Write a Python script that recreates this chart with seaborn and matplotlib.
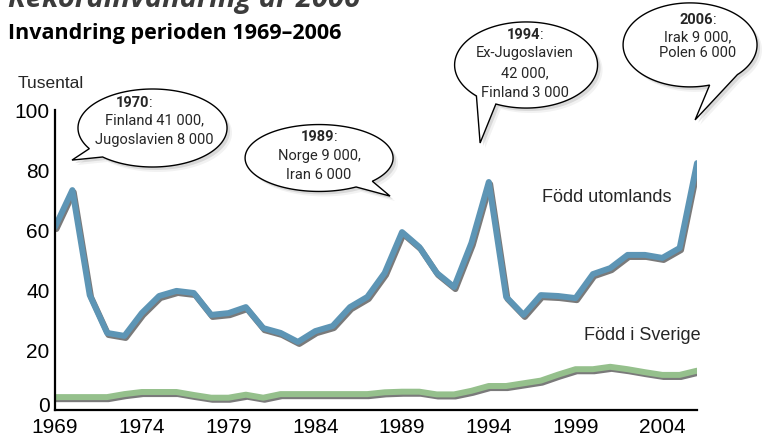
import numpy as np
import pandas as pd
import seaborn as sns
import matplotlib.pyplot as plt
import matplotlib.patheffects as pe
import matplotlib.transforms as mtransforms
from matplotlib.patches import Polygon
from matplotlib.transforms import offset_copy

# Invandring 1969-2006, tusental
years = list(range(1969, 2007))
fodd_utomlands = [61, 73.3, 38.3, 25.7, 24.7, 32.3, 38, 39.7, 39, 31.7,
                  32.3, 34.3, 27.3, 25.7, 22.7, 26.3, 28, 34.3, 37.7, 45.7,
                  59.3, 54.3, 45.7, 41, 55.7, 76, 37.7, 31.7, 38.3, 38,
                  37.3, 45.3, 47.3, 51.7, 51.7, 50.7, 54, 82.3]
fodd_sverige = [4.3, 4.3, 4.3, 4.3, 5.3, 6, 6, 6, 5, 4.1,
                4.1, 5.1, 4.1, 5.3, 5.3, 5.3, 5.3, 5.3, 5.3, 5.9,
                6.1, 6.1, 5.2, 5.2, 6.4, 8, 8, 8.9, 9.8, 11.8,
                13.6, 13.6, 14.4, 13.6, 12.6, 11.7, 11.7, 13.1]
groups = ['Född utomlands', 'Född i Sverige']
x_ticks = list(range(1969, 2006, 5))
y_ticks = [0, 20, 40, 60, 80, 100]

bubble_years = ['1970', '1989', '1994', '2006']
bubble_lines = [['Finland 41 000,', 'Jugoslavien 8 000'],
                ['Norge 9 000,', 'Iran 6 000'],
                ['Ex-Jugoslavien', '42 000,', 'Finland 3 000'],
                ['Irak 9 000,', 'Polen 6 000']]

df = pd.DataFrame({
    'År': years * 2,
    'Tusental': fodd_utomlands + fodd_sverige,
    'Grupp': [groups[0]] * len(years) + [groups[1]] * len(years),
})

sns.set_style('white')
plt.rcParams['font.family'] = ['Liberation Sans', 'DejaVu Sans']
narrow = ['Roboto', 'DejaVu Sans']

fig = plt.figure(figsize=(7.76, 4.38), dpi=100)
ax = fig.add_axes([55 / 776, 28 / 438, 642 / 776, 300 / 438])

shadow = [pe.SimpleLineShadow(offset=(1, -1.5), shadow_color='#7a7a7a', alpha=1), pe.Normal()]
sns.lineplot(data=df, x='År', y='Tusental', hue='Grupp',
             palette={groups[0]: '#5d95b5', groups[1]: '#95c08c'},
             linewidth=4.3, legend=False, path_effects=shadow, ax=ax)

ax.set_xlim(1969, 2006)
ax.set_ylim(0, 100)
ax.set_xticks(x_ticks)
ax.set_yticks(y_ticks)
ax.set_xlabel('')
ax.set_ylabel('')
ax.tick_params(axis='both', length=0, labelsize=15, colors='black')
ax.tick_params(axis='y', pad=4)
ax.tick_params(axis='x', pad=6)
for side in ['top', 'right']:
    ax.spines[side].set_visible(False)
for side in ['left', 'bottom']:
    ax.spines[side].set_color('black')
    ax.spines[side].set_linewidth(1.6)
# nollan sitter lite ovanför axeln
zero = ax.get_yticklabels()[0]
zero.set_transform(zero.get_transform() + mtransforms.ScaledTranslation(0, 5 / 100, fig.dpi_scale_trans))

ax.text(1997.07, 70.7, groups[0], fontsize=13, va='center', ha='left')
ax.text(1999.5, 24.7, groups[1], fontsize=13, va='center', ha='left')


def bubble(cx, cy, w, h, a1, a2, tip, year, lines, dys, dx_year=0, dx=0):
    t = np.radians(np.linspace(a2, a1 + 360, 160))
    verts = list(zip(cx + w / 2 * np.cos(t), cy + h / 2 * np.sin(t))) + [tip]
    for off, al in [(5, 0.05), (3, 0.10)]:
        tr = offset_copy(ax.transData, fig=fig, x=off, y=-off, units='dots')
        ax.add_patch(Polygon(verts, closed=True, fc='black', ec='none', alpha=al,
                             transform=tr, clip_on=False, zorder=4))
    ax.add_patch(Polygon(verts, closed=True, fc='white', ec='black', lw=1,
                         clip_on=False, zorder=5))
    tr = offset_copy(ax.transData, fig=fig, x=dx + dx_year - 2, y=dys[0], units='dots')
    yt = ax.text(cx, cy, year, transform=tr, ha='center', va='center',
                 fontsize=10.5, fontweight='bold', family=narrow, zorder=6)
    ax.annotate(':', xy=(1, 0.5), xycoords=yt, ha='left', va='center',
                fontsize=10.5, family=narrow, annotation_clip=False, zorder=6)
    for s, dy in zip(lines, dys[1:]):
        tr = offset_copy(ax.transData, fig=fig, x=dx, y=dy, units='dots')
        ax.text(cx, cy, s, transform=tr, ha='center', va='center',
                fontsize=10.5, family=narrow, zorder=6)


bubble(1974.62, 94, 8.59, 26, 212, 228, (1969.98, 83.3),
       bubble_years[0], bubble_lines[0], [25, 8, -12], dx_year=-20, dx=2)
bubble(1984.22, 84, 8.53, 22.3, 300, 316, (1988.31, 71.3),
       bubble_years[1], bubble_lines[1], [21, 2, -17])
bubble(1996.15, 115, 8.24, 28.7, 226, 245, (1993.5, 89),
       bubble_years[2], bubble_lines[2], [30, 12, -8, -28], dx=-1)
bubble(2005.6, 121.7, 7.72, 28, 287, 315, (2005.89, 96.7),
       bubble_years[3], bubble_lines[3], [25, 8, -8], dx=8)

fig.text(8 / 776, 1 - 7 / 438, 'Rekordinvandring år 2006', fontsize=21,
         fontweight='bold', fontstyle='italic', color='#3c3c3c',
         family=['Open Sans', 'DejaVu Sans'], va='baseline', ha='left')
fig.text(8 / 776, 1 - 39 / 438, 'Invandring perioden 1969–2006', fontsize=15.5,
         fontweight='bold', color='black',
         family=['Open Sans', 'DejaVu Sans'], va='baseline', ha='left')
fig.text(18 / 776, 1 - 83 / 438, 'Tusental', fontsize=12.5, va='center', ha='left')

fig.savefig('out.png', dpi=100)
